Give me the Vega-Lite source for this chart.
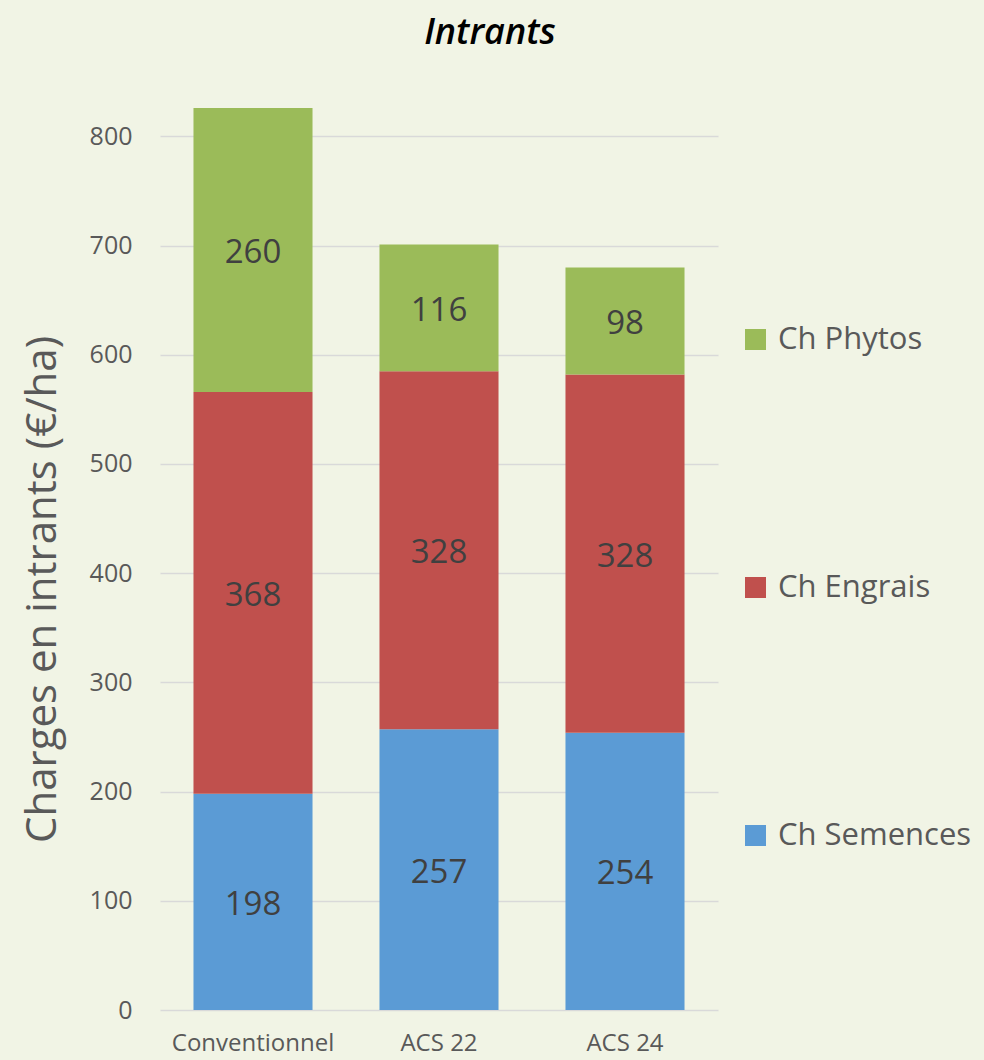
{
  "$schema": "https://vega.github.io/schema/vega-lite/v6.json",
  "width": 558,
  "height": 902,
  "autosize": {"type": "none"},
  "padding": {"left": 160, "top": 108, "right": 266, "bottom": 50},
  "background": "#f1f4e5",
  "title": {
    "text": "Intrants",
    "font": "Open Sans",
    "fontStyle": "italic",
    "fontWeight": 600,
    "fontSize": 36,
    "color": "#000000",
    "anchor": "middle",
    "dx": 51,
    "offset": 56
  },
  "data": {
    "values": [
      {"systeme": "Conventionnel", "poste": "Ch Semences", "ordre": 1, "valeur": 198},
      {"systeme": "Conventionnel", "poste": "Ch Engrais", "ordre": 2, "valeur": 368},
      {"systeme": "Conventionnel", "poste": "Ch Phytos", "ordre": 3, "valeur": 260},
      {"systeme": "ACS 22", "poste": "Ch Semences", "ordre": 1, "valeur": 257},
      {"systeme": "ACS 22", "poste": "Ch Engrais", "ordre": 2, "valeur": 328},
      {"systeme": "ACS 22", "poste": "Ch Phytos", "ordre": 3, "valeur": 116},
      {"systeme": "ACS 24", "poste": "Ch Semences", "ordre": 1, "valeur": 254},
      {"systeme": "ACS 24", "poste": "Ch Engrais", "ordre": 2, "valeur": 328},
      {"systeme": "ACS 24", "poste": "Ch Phytos", "ordre": 3, "valeur": 98}
    ]
  },
  "transform": [
    {"stack": "valeur", "groupby": ["systeme"], "sort": [{"field": "ordre", "order": "ascending"}], "as": ["v0", "v1"]},
    {"calculate": "(datum.v0 + datum.v1) / 2", "as": "vmid"}
  ],
  "encoding": {
    "x": {
      "field": "systeme",
      "type": "nominal",
      "sort": ["Conventionnel", "ACS 22", "ACS 24"],
      "scale": {"paddingInner": 0.36, "paddingOuter": 0.18},
      "axis": {
        "title": null,
        "labelAngle": 0,
        "labelFont": "Open Sans",
        "labelFontSize": 24,
        "labelColor": "#595959",
        "labelPadding": 21,
        "ticks": false,
        "domain": false
      }
    }
  },
  "layer": [
    {
      "mark": {"type": "bar"},
      "encoding": {
        "y": {
          "field": "v0",
          "type": "quantitative",
          "scale": {"domain": [0, 826], "nice": false, "zero": true},
          "axis": {
            "title": "Charges en intrants (€/ha)",
            "titleFont": "Open Sans",
            "titleFontSize": 42,
            "titleFontWeight": "normal",
            "titleColor": "#595959",
            "titleX": -118,
            "titleY": 481,
            "titleAngle": -90,
            "titleBaseline": "middle",
            "values": [0, 100, 200, 300, 400, 500, 600, 700, 800],
            "labelFont": "Open Sans",
            "labelFontSize": 25,
            "labelColor": "#595959",
            "labelPadding": 28,
            "ticks": false,
            "domain": false,
            "grid": true,
            "gridColor": "#d9d9d9",
            "gridWidth": 1.5
          }
        },
        "y2": {"field": "v1"},
        "color": {
          "field": "poste",
          "type": "nominal",
          "scale": {
            "domain": ["Ch Phytos", "Ch Engrais", "Ch Semences"],
            "range": ["#9bbb59", "#c0504d", "#5b9bd5"]
          },
          "legend": {
            "title": null,
            "orient": "none",
            "legendX": 580,
            "legendY": 216,
            "symbolType": "square",
            "symbolSize": 441,
            "symbolStrokeWidth": 0,
            "labelFont": "Open Sans",
            "labelFontSize": 31,
            "labelColor": "#595959",
            "labelOffset": 7,
            "rowPadding": 216,
            "labelLimit": 400
          }
        }
      }
    },
    {
      "mark": {"type": "text", "font": "Open Sans", "fontSize": 33, "color": "#404040", "baseline": "middle", "dy": 3},
      "encoding": {
        "y": {"field": "vmid", "type": "quantitative"},
        "text": {"field": "valeur", "type": "quantitative"}
      }
    }
  ],
  "config": {
    "view": {"stroke": null}
  }
}
